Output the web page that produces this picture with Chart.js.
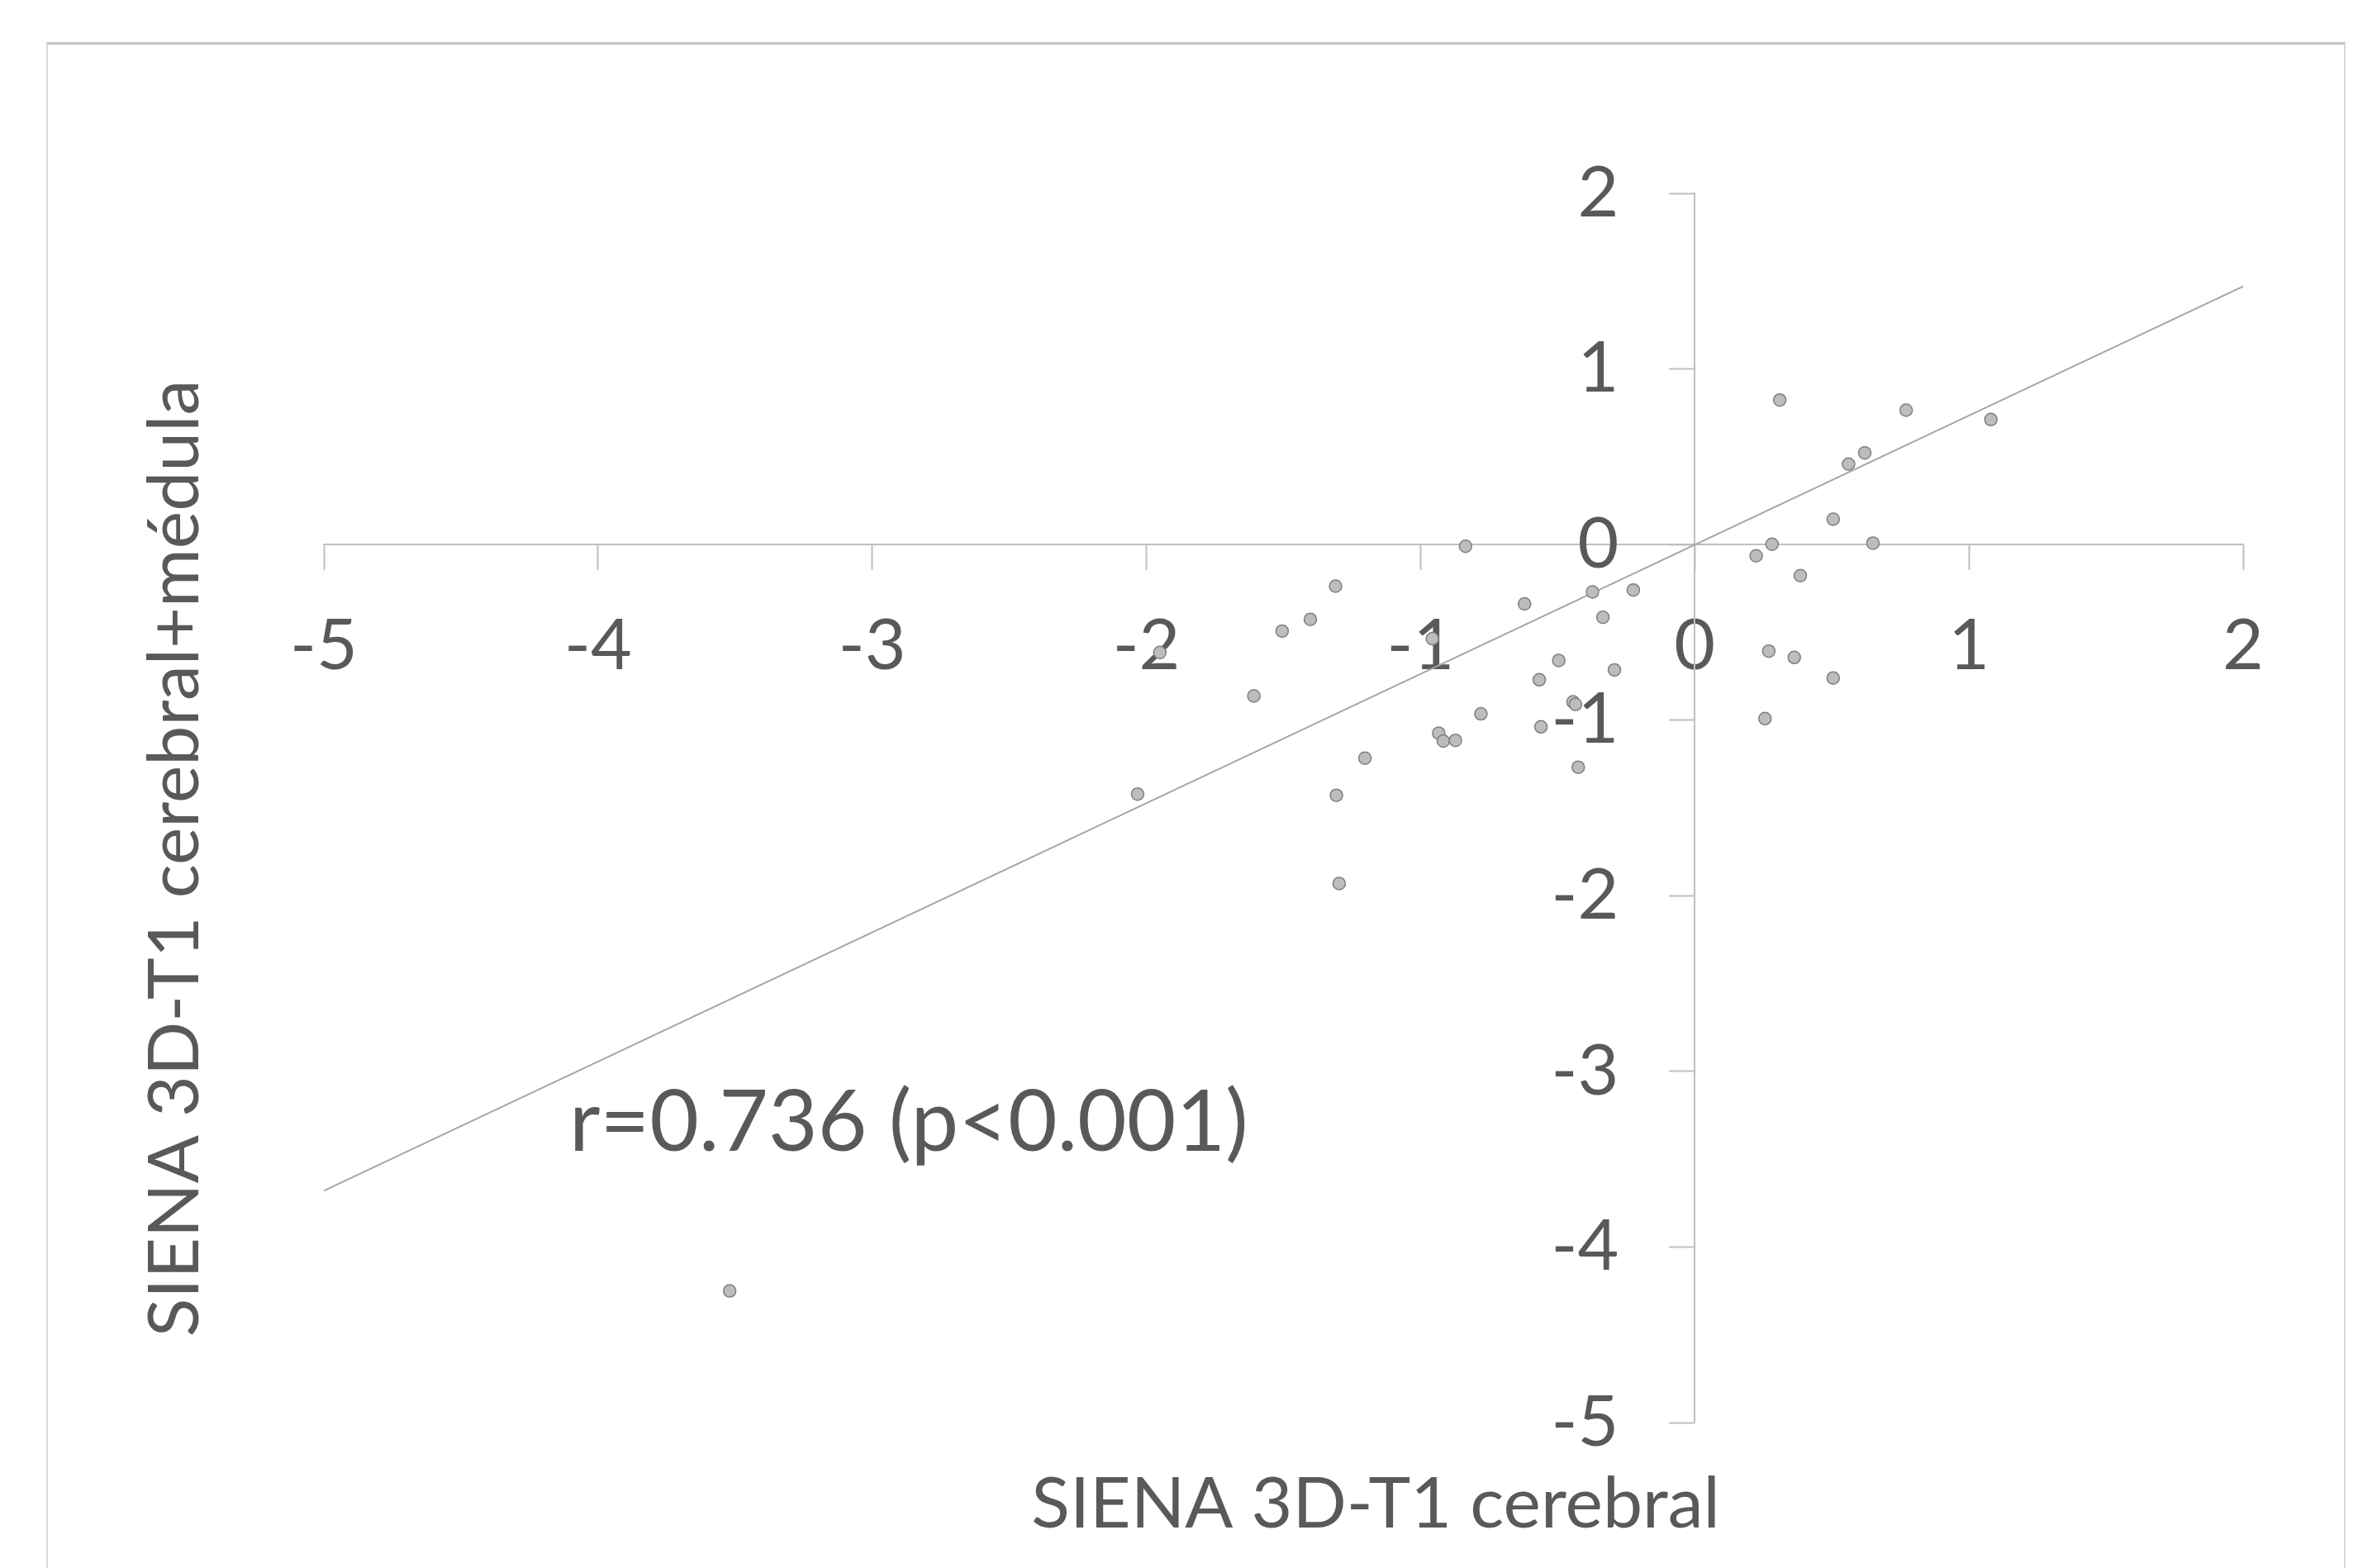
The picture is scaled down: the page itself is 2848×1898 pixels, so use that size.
<!DOCTYPE html>
<html>
<head>
<meta charset="utf-8">
<script src="https://cdn.jsdelivr.net/npm/chart.js@4.4.1/dist/chart.umd.min.js"></script>
<style>
  html, body { margin: 0; padding: 0; background: #fff; }
  #wrap { position: relative; width: 2848px; height: 1898px; overflow: hidden; }
  #frame {
    position: absolute; left: 56px; top: 51px; width: 2779px; height: 1900px;
    border: 2px solid #d9d9d9; border-top: 3px solid #c6c6c6;
  }
  #chart { position: absolute; left: 0; top: 0; }
</style>
</head>
<body>
<div id="wrap">
  <div id="frame"></div>
  <canvas id="chart" width="2848" height="1898"></canvas>
</div>
<script>
// SIENA 3D-T1 cerebral (x) vs SIENA 3D-T1 cerebral+médula (y)
const brainX = [
  -0.836, -1.310, -1.402, -1.505, -1.951, -0.957, -0.621, -0.373, -0.224, -0.335,
  -0.496, -0.293, -0.567, -0.444, -0.435, -0.780, -0.561, -0.934, -0.917, -0.873,
  -1.608, -1.203, -0.425, -2.032, -1.307, -1.297,
  0.310, 0.771, 1.080, 0.620, 0.561, 0.505, 0.282, 0.650, 0.224, 0.385,
  0.270, 0.363, 0.505, 0.256, -3.52
];
const cordY = [
  -0.010, -0.237, -0.426, -0.493, -0.615, -0.536, -0.338, -0.270, -0.259, -0.414,
  -0.660, -0.714, -0.770, -0.896, -0.910, -0.964, -1.038, -1.074, -1.119, -1.115,
  -0.862, -1.216, -1.268, -1.421, -1.428, -1.930,
  0.823, 0.765, 0.712, 0.522, 0.458, 0.144, 0.002, 0.008, -0.064, -0.177,
  -0.607, -0.643, -0.760, -0.991, -4.25
];

// linear trend line ends
const trendX = [-5, 2];
const trendY = [-3.68, 1.47];

const xTicks = [-5, -4, -3, -2, -1, 0, 1, 2];
const yTicks = [-5, -4, -3, -2, -1, 0, 1, 2];

const xTitle = "SIENA 3D-T1 cerebral";
const yTitle = "SIENA 3D-T1 cerebral+médula";
const note = "r=0.736 (p<0.001)";

const TEXT = "#595959";
const AXIS = "#bfbfbf";
const FONT = "Lato";

function pairs(xs, ys) {
  return xs.map((x, i) => ({ x, y: ys[i] }));
}

// titles, note and the y tick labels (chart.js glues them onto a crossing axis)
const textPlugin = {
  id: "chartText",
  afterDraw(chart) {
    const ctx = chart.ctx;
    const sx = chart.scales.x;
    const sy = chart.scales.y;
    ctx.save();
    ctx.fillStyle = TEXT;
    ctx.font = "86px " + FONT;

    ctx.textAlign = "right";
    ctx.textBaseline = "middle";
    const axisX = sx.getPixelForValue(0);
    sy.ticks.forEach((t) => {
      ctx.fillText(String(t.value), axisX - 92, sy.getPixelForValue(t.value));
    });

    ctx.textAlign = "center";
    ctx.textBaseline = "alphabetic";
    ctx.fillText(xTitle, 1665, 1849);

    ctx.save();
    ctx.translate(240, 1039);
    ctx.rotate(-Math.PI / 2);
    ctx.fillText(yTitle, 0, 0);
    ctx.restore();

    ctx.font = "103px " + FONT;
    ctx.textAlign = "left";
    ctx.fillText(note, 689, 1393);
    ctx.restore();
  },
};

const axisCommon = {
  type: "linear",
  min: -5,
  max: 2,
  z: 1,
  grid: {
    display: true,
    drawOnChartArea: false,
    drawTicks: true,
    tickLength: 30,
    tickColor: AXIS,
    tickWidth: 2,
  },
  border: { display: true, color: AXIS, width: 2 },
  ticks: {
    color: TEXT,
    font: { family: FONT, size: 86 },
    autoSkip: false,
  },
};

new Chart(document.getElementById("chart"), {
  type: "scatter",
  data: {
    datasets: [
      {
        label: "datos",
        data: pairs(brainX, cordY),
        backgroundColor: "#bdbdbd",
        borderColor: "#7f7f7f",
        borderWidth: 1.5,
        pointRadius: 7.5,
        order: 1,
      },
      {
        label: "tendencia",
        type: "line",
        data: pairs(trendX, trendY),
        borderColor: "#a6a6a6",
        borderWidth: 2,
        pointRadius: 0,
        fill: false,
        order: 2,
      },
    ],
  },
  options: {
    responsive: false,
    animation: false,
    devicePixelRatio: 1,
    layout: { padding: { left: 392, right: 133, top: 234, bottom: 176 } },
    plugins: { legend: { display: false }, tooltip: { enabled: false } },
    scales: {
      x: {
        ...axisCommon,
        position: { y: 0 },
        ticks: { ...axisCommon.ticks, padding: 42, maxRotation: 0 },
        afterBuildTicks: (s) => { s.ticks = xTicks.map((v) => ({ value: v })); },
        afterFit: (s) => { s.height = 0; },
      },
      y: {
        ...axisCommon,
        position: { x: 0 },
        ticks: { ...axisCommon.ticks, display: false },
        afterBuildTicks: (s) => { s.ticks = yTicks.map((v) => ({ value: v })); },
        afterFit: (s) => { s.width = 0; },
      },
    },
  },
  plugins: [textPlugin],
});
</script>
</body>
</html>
